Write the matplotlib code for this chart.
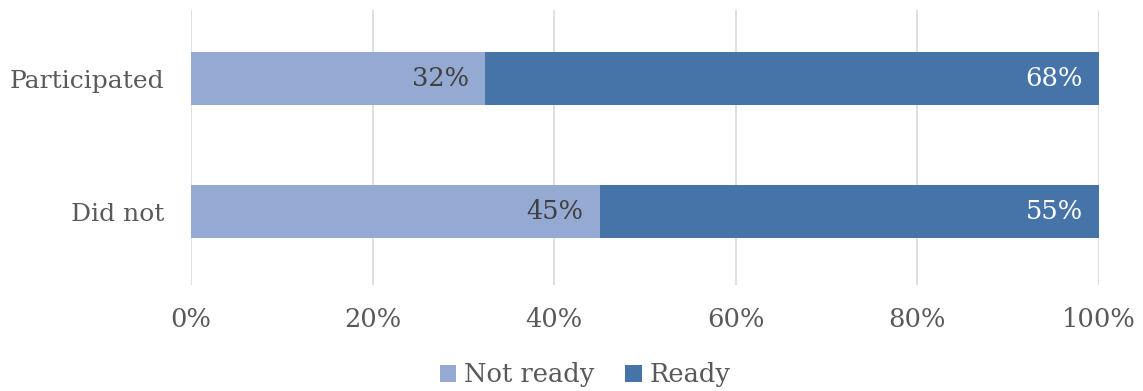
import matplotlib
matplotlib.use("Agg")
import matplotlib.pyplot as plt
from matplotlib.ticker import PercentFormatter

groups = ["Did not", "Participated"]
not_ready = [45, 32.4]
ready = [55, 67.6]

light = "#95AAD2"
dark = "#4674A8"
grey = "#595959"

plt.rcParams["font.family"] = ["DejaVu Serif"]

fig = plt.figure(figsize=(11.43, 3.91), dpi=100)
ax = fig.add_axes([0.1671, 0.271, 0.7944, 0.703])

ypos = range(len(groups))
ax.barh(ypos, not_ready, height=0.4, color=light, label="Not ready", zorder=2)
ax.barh(ypos, ready, left=not_ready, height=0.4, color=dark, label="Ready", zorder=2)

for y, a, b in zip(ypos, not_ready, ready):
    ax.text(a - 1.8, y, f"{round(a)}%", ha="right", va="center", fontsize=18.5, color="#404040")
    ax.text(a + b - 1.8, y, f"{round(b)}%", ha="right", va="center", fontsize=18.5, color="white")

ax.set_xlim(0, 100)
ax.set_ylim(-0.55, 1.515)
ax.set_xticks(range(0, 101, 20))
ax.xaxis.set_major_formatter(PercentFormatter(decimals=0))
ax.set_yticks(list(ypos))
ax.set_yticklabels(groups)
ax.tick_params(length=0, labelsize=18.5, labelcolor=grey)
ax.tick_params(axis="x", pad=16)
ax.tick_params(axis="y", pad=19, labelsize=18)
ax.grid(axis="x", color="#d9d9d9", linewidth=1.2, zorder=0)
for s in ax.spines.values():
    s.set_visible(False)

fig.legend(loc="lower center", bbox_to_anchor=(0.512, -0.05), ncol=2, frameon=False,
           fontsize=18.5, labelcolor=grey, handlelength=0.65, handleheight=0.65,
           handletextpad=0.3, columnspacing=1.2)

fig.savefig("out.png", dpi=100)
